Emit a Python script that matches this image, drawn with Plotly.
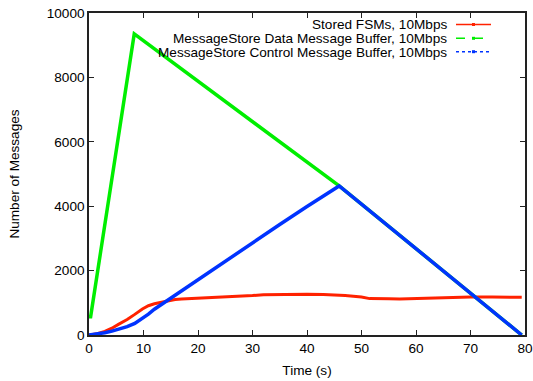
import plotly.graph_objects as go

# Stored FSMs (red)
fsm_t = [0, 1.5, 2.9, 4.2, 5.4, 7.0, 8.4, 9.8, 10.9, 12.0, 13.3, 14.5, 15.8, 17.0, 18.8, 20, 22, 25,
         28, 30, 32, 35, 38, 40, 43, 45, 47, 48.5, 50, 51.5, 53, 55, 57, 60, 63, 66, 70, 74, 77, 79.4]
fsm_v = [0, 40, 110, 210, 330, 480, 640, 810, 910, 970, 1015, 1060, 1100, 1120, 1135, 1135, 1145, 1165,
         1200, 1225, 1250, 1260, 1265, 1265, 1255, 1245, 1225, 1200, 1180, 1130, 1120, 1125, 1120, 1135,
         1145, 1170, 1180, 1180, 1175, 1170]

# MessageStore data message buffer (green)
data_t = [0, 0.3, 8.3, 45.9, 79.4]
data_v = [570, 570, 9350, 4630, 0]

# MessageStore control message buffer (blue)
ctrl_t = [0, 1.5, 2.9, 4.2, 5.4, 7.0, 8.4, 9.7, 10.9, 12.0, 13.3, 15.8, 18.8, 25, 30, 35, 40, 45.9, 79.4]
ctrl_v = [0, 30, 70, 120, 175, 260, 360, 500, 650, 800, 950, 1240, 1580, 2290, 2860, 3430, 3990, 4630, 0]

x_ticks = [0, 10, 20, 30, 40, 50, 60, 70, 80]
y_ticks = [0, 2000, 4000, 6000, 8000, 10000]
y_tick_text = ["0", "2000", "4000", "6000", "8000", "10000"]

legend_labels = ["Stored FSMs, 10Mbps",
                 "MessageStore Data Message Buffer, 10Mbps",
                 "MessageStore Control Message Buffer, 10Mbps"]
colors = ["#ff2200", "#00ee00", "#0033ff"]
dashes = ["solid", "dash", "dot"]

FONT = "Liberation Sans, Arial, Helvetica, sans-serif"
FS = 13.6

fig = go.Figure()
fig.add_trace(go.Scatter(x=fsm_t, y=fsm_v, mode="lines", line=dict(color=colors[0], width=3),
                         showlegend=False))
fig.add_trace(go.Scatter(x=data_t, y=data_v, mode="lines", line=dict(color=colors[1], width=3.5),
                         showlegend=False))
fig.add_trace(go.Scatter(x=ctrl_t, y=ctrl_v, mode="lines", line=dict(color=colors[2], width=3.5),
                         showlegend=False))

# Key in the top-right corner: labels right-aligned, line samples to their right
shapes = []
annotations = []
row_y = [25, 38.8, 52.2]
W, H = 533, 381
L, R, T, B = 89, 8, 13, 46
pw, ph = W - L - R, H - T - B

def px_to_paper(px, py):
    return (px - L) / pw, 1 - (py - T) / ph

for i, lab in enumerate(legend_labels):
    tx, ty = px_to_paper(448, row_y[i])
    annotations.append(dict(x=tx, y=ty, xref="paper", yref="paper", text=lab, showarrow=False,
                            xanchor="right", yanchor="middle", borderpad=0,
                            font=dict(size=FS, color="black", family=FONT)))
    x0, y0 = px_to_paper(456, row_y[i] - 0.5)
    x1, _ = px_to_paper(491, row_y[i])
    shapes.append(dict(type="line", xref="paper", yref="paper", x0=x0, x1=x1, y0=y0, y1=y0,
                       line=dict(color=colors[i], width=1.5, dash=dashes[i])))
    xm, _ = px_to_paper(473.5, row_y[i])
    shapes.append(dict(type="rect", xref="paper", yref="paper",
                       x0=xm - 1.5 / pw, x1=xm + 1.5 / pw, y0=y0 - 1.5 / ph, y1=y0 + 1.5 / ph,
                       fillcolor=colors[i], line=dict(width=0)))

axis_common = dict(showgrid=False, zeroline=False, showline=True, linecolor="#222222", linewidth=1.5,
                   mirror="allticks", ticks="inside", ticklen=5, tickcolor="#222222", tickwidth=1,
                   automargin=False,
                   tickfont=dict(size=FS, color="black", family=FONT))

fig.update_layout(
    width=W, height=H,
    margin=dict(l=L, r=R, t=T, b=B, autoexpand=False),
    paper_bgcolor="white", plot_bgcolor="white",
    font=dict(family=FONT, size=FS, color="black"),
    xaxis=dict(range=[0, 80], tickvals=x_ticks, title=dict(text="Time (s)", standoff=10,
               font=dict(size=FS, family=FONT)), **axis_common),
    yaxis=dict(range=[0, 10000], tickvals=y_ticks, ticktext=y_tick_text,
               title=dict(text="Number of Messages", standoff=24, font=dict(size=FS, family=FONT)),
               **axis_common),
    shapes=shapes,
    annotations=annotations,
)

fig.write_html("out.html")
